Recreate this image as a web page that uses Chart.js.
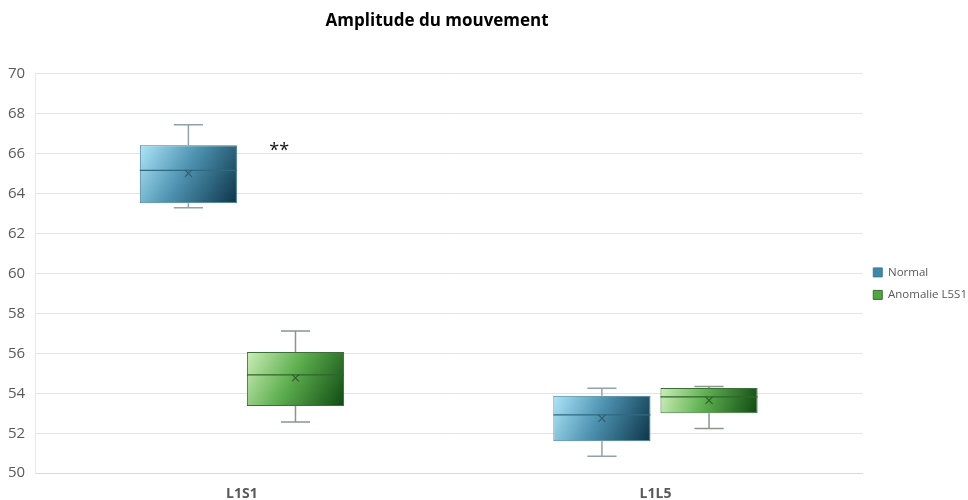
<!DOCTYPE html>
<html><head><meta charset="utf-8">
<script src="https://cdn.jsdelivr.net/npm/chart.js@4.4.1/dist/chart.umd.min.js"></script>
<style>html,body{margin:0;padding:0;background:#fff}#wrap{width:968px;height:500px;position:relative}</style>
</head><body><div id="wrap"><canvas id="c"></canvas></div>
<script>
const chartTitle = 'Amplitude du mouvement';
const categories = ['L1S1', 'L1L5'];
const seriesNames = ['Normal', 'Anomalie L5S1'];
const normalMin = [63.3, 50.85];
const normalQ1 = [63.52, 51.6];
const normalMedian = [65.17, 52.92];
const normalQ3 = [66.42, 53.88];
const normalMax = [67.45, 54.25];
const normalMean = [65.02, 52.75];
const anomMin = [52.56, 52.24];
const anomQ1 = [53.37, 53.0];
const anomMedian = [54.92, 53.82];
const anomQ3 = [56.07, 54.27];
const anomMax = [57.12, 54.34];
const anomMean = [54.78, 53.65];
const yTicks = [50, 52, 54, 56, 58, 60, 62, 64, 66, 68, 70];
const annotationText = '**';
const annotationCategory = 0;
const annotationValue = 66.28;

const FONT = "'Open Sans', 'Liberation Sans', sans-serif";
const styles = [
  {light: '#aee6fa', mid: '#4f94b2', dark: '#0d3449', border: '#3f7b93', whisker: '#8ea3ae', median: '#2f6a80', mean: '#36586a', legend: '#3d88a8'},
  {light: '#cdeeb8', mid: '#5fb050', dark: '#0f4a12', border: '#3b6e38', whisker: '#8a968a', median: '#2e662c', mean: '#2f5a2d', legend: '#4ea83d'}
];
const stats = [
  {min: normalMin, q1: normalQ1, med: normalMedian, q3: normalQ3, max: normalMax, mean: normalMean},
  {min: anomMin, q1: anomQ1, med: anomMedian, q3: anomQ3, max: anomMax, mean: anomMean}
];

function gradFor(di) {
  return function (c) {
    const st = styles[di];
    const el = c.element;
    if (!el || el.x === undefined || isNaN(el.x) || el.y === undefined) return st.mid;
    const w = el.width || 10;
    const x0 = el.x - w / 2, x1 = el.x + w / 2;
    const y0 = Math.min(el.y, el.base), y1 = Math.max(el.y, el.base);
    const g = c.chart.ctx.createLinearGradient(x0, y0, x1, y1);
    g.addColorStop(0, st.light);
    g.addColorStop(0.45, st.mid);
    g.addColorStop(1, st.dark);
    return g;
  };
}

const titleCenter = {
  id: 'titleCenter',
  afterLayout(chart) {
    const t = chart.titleBlock, lg = chart.legend;
    if (t && lg) { t.left = 0; t.right = lg.left + 12; t.width = t.right - t.left; }
  }
};

const boxExtras = {
  id: 'boxExtras',
  afterDatasetsDraw(chart) {
    const ctx = chart.ctx, y = chart.scales.y, xs = chart.scales.x;
    chart.data.datasets.forEach((ds, di) => {
      const meta = chart.getDatasetMeta(di);
      if (meta.hidden) return;
      const st = styles[di], s = stats[di];
      meta.data.forEach((el, i) => {
        const p = el.getProps(['x', 'width'], true);
        const cx = p.x, w = p.width;
        const cap = w * 0.3;
        const pMin = y.getPixelForValue(s.min[i]);
        const pMax = y.getPixelForValue(s.max[i]);
        const pQ1 = y.getPixelForValue(s.q1[i]);
        const pQ3 = y.getPixelForValue(s.q3[i]);
        const pMed = y.getPixelForValue(s.med[i]);
        const pMean = y.getPixelForValue(s.mean[i]);
        ctx.save();
        ctx.strokeStyle = st.whisker;
        ctx.lineWidth = 1.5;
        ctx.beginPath();
        ctx.moveTo(cx, pQ3); ctx.lineTo(cx, pMax);
        ctx.moveTo(cx - cap / 2, pMax); ctx.lineTo(cx + cap / 2, pMax);
        ctx.moveTo(cx, pQ1); ctx.lineTo(cx, pMin);
        ctx.moveTo(cx - cap / 2, pMin); ctx.lineTo(cx + cap / 2, pMin);
        ctx.stroke();
        ctx.strokeStyle = st.median;
        ctx.lineWidth = 1.2;
        ctx.beginPath();
        ctx.moveTo(cx - w / 2, pMed); ctx.lineTo(cx + w / 2, pMed);
        ctx.stroke();
        ctx.strokeStyle = st.mean;
        ctx.lineWidth = 1.1;
        const m = 3.5;
        ctx.beginPath();
        ctx.moveTo(cx - m, pMean - m); ctx.lineTo(cx + m, pMean + m);
        ctx.moveTo(cx + m, pMean - m); ctx.lineTo(cx - m, pMean + m);
        ctx.stroke();
        ctx.restore();
      });
    });
    const ax = xs.getPixelForValue(annotationCategory) + xs.width / categories.length * 0.09;
    const ay = y.getPixelForValue(annotationValue);
    ctx.save();
    ctx.fillStyle = '#111';
    ctx.font = "18px " + FONT;
    ctx.textAlign = 'center';
    ctx.textBaseline = 'middle';
    ctx.fillText(annotationText, ax, ay + 3);
    ctx.restore();
  }
};

const chart = new Chart(document.getElementById('c'), {
  type: 'bar',
  data: {
    labels: categories,
    datasets: seriesNames.map((name, di) => ({
      label: name,
      data: categories.map((c, i) => [stats[di].q1[i], stats[di].q3[i]]),
      backgroundColor: gradFor(di),
      borderColor: styles[di].border,
      borderWidth: 1,
      borderSkipped: false,
      categoryPercentage: 0.518,
      barPercentage: 0.907
    }))
  },
  options: {
    responsive: true,
    maintainAspectRatio: false,
    animation: false,
    layout: {padding: {left: -2, right: -9, top: 0, bottom: -14}},
    plugins: {
      title: {
        display: true, text: chartTitle, fullSize: false,
        color: '#000', font: {family: FONT, size: 17, weight: 'bold'},
        padding: {top: 11, bottom: 42.5}
      },
      legend: {
        position: 'right',
        fullSize: false,
        title: {display: true, text: '', font: {size: 1}, padding: {top: 0, bottom: 19}},
        labels: {
          boxWidth: 9, boxHeight: 9, padding: 11,
          color: '#595959', font: {family: FONT, size: 11.5},
          generateLabels(ch) {
            return ch.data.datasets.map((ds, di) => ({
              text: ds.label, fillStyle: styles[di].legend, strokeStyle: styles[di].border,
              lineWidth: 1, hidden: !ch.isDatasetVisible(di), datasetIndex: di, fontColor: '#595959'
            }));
          }
        }
      },
      tooltip: {enabled: false}
    },
    scales: {
      x: {
        grid: {display: false, drawTicks: false},
        border: {display: true, color: '#d9d9d9', width: 1},
        ticks: {color: '#595959', font: {family: FONT, size: 14, weight: 'bold'}, padding: 12}
      },
      y: {
        min: yTicks[0], max: yTicks[yTicks.length - 1],
        afterBuildTicks(ax) { ax.ticks = yTicks.map(v => ({value: v})); },
        grid: {color: '#e3e3e3', drawTicks: false, lineWidth: 1},
        border: {display: true, color: '#e8e8e8'},
        ticks: {color: '#595959', font: {family: FONT, size: 15}, padding: 10}
      }
    }
  },
  plugins: [titleCenter, boxExtras]
});
chart.update('none');
</script>
</body></html>
